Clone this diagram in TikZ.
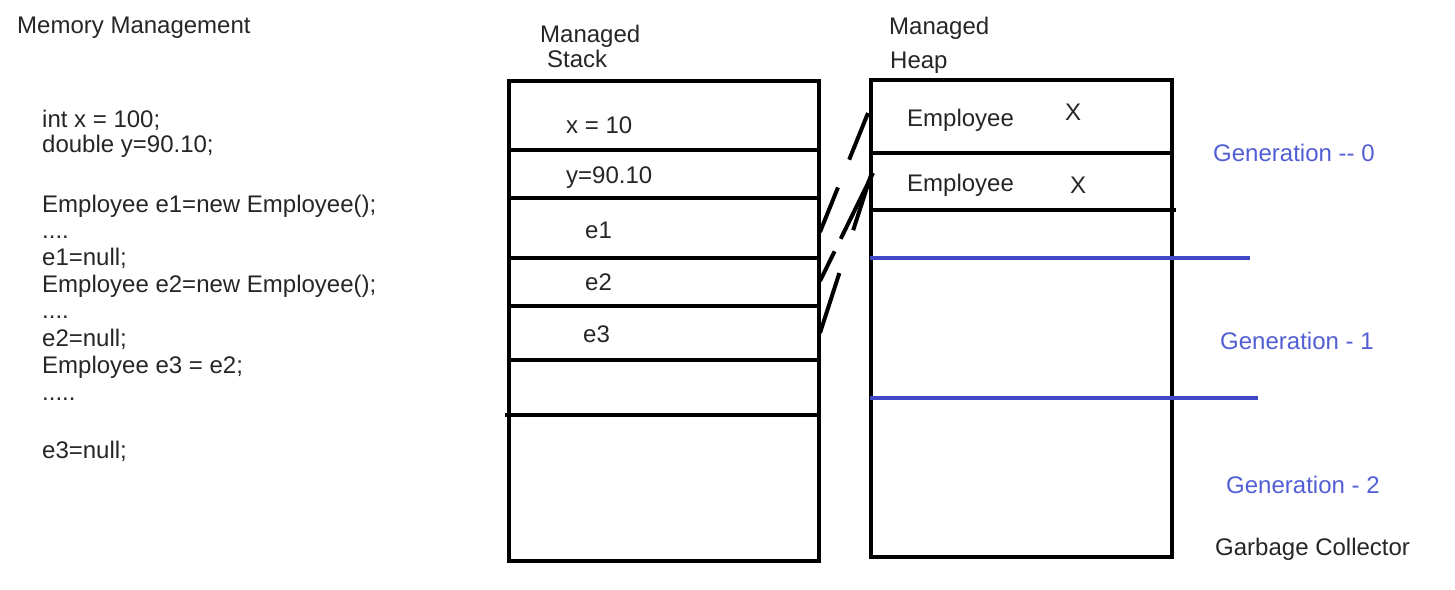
\documentclass[tikz,border=0pt]{standalone}
\usepackage{fontspec}
\setmainfont{Liberation Sans}
\definecolor{txt}{RGB}{38,38,38}
\definecolor{gentxt}{RGB}{82,94,212}
\definecolor{genline}{RGB}{64,72,200}
\begin{document}
\begin{tikzpicture}[x=1pt,y=-1pt,
  lbl/.style={anchor=base west,inner sep=0pt,text=txt,font=\fontsize{24}{28}\selectfont},
  gen/.style={lbl,text=gentxt},
  box/.style={draw=black,line width=4pt},
  sep/.style={draw=black,line width=4pt},
  gline/.style={draw=genline,line width=4pt},
  ref/.style={draw=black,line width=4pt}]
\useasboundingbox (0,0) rectangle (1455,589);
\fill[white] (0,0) rectangle (1455,589);

% left code
\node[lbl] (title) at (17,33) {Memory Management};
\node[lbl] (c1) at (42,127) {int x = 100;};
\node[lbl] (c2) at (42,152) {double y=90.10;};
\node[lbl] (c3) at (42,212) {Employee e1=new Employee();};
\node[lbl] (c4) at (42,238) {....};
\node[lbl] (c5) at (42,265) {e1=null;};
\node[lbl] (c6) at (42,292) {Employee e2=new Employee();};
\node[lbl] (c7) at (42,318) {....};
\node[lbl] (c8) at (42,346) {e2=null;};
\node[lbl] (c9) at (42,373) {Employee e3 = e2;};
\node[lbl] (c10) at (42,400) {.....};
\node[lbl] (c11) at (42,458) {e3=null;};

% stack
\node[lbl] (sm) at (540,42) {Managed};
\node[lbl] (ss) at (547,67) {Stack};
\draw[box] (509,81) rectangle (819,561);
\draw[sep] (509,150) -- (819,150);
\draw[sep] (509,198) -- (819,198);
\draw[sep] (509,258) -- (819,258);
\draw[sep] (509,306) -- (819,306);
\draw[sep] (509,360) -- (819,360);
\draw[sep] (505,415) -- (819,415);
\node[lbl] (sx) at (566,133) {x = 10};
\node[lbl] (sy) at (566,183) {y=90.10};
\node[lbl] (se1) at (585,238) {e1};
\node[lbl] (se2) at (585,290) {e2};
\node[lbl] (se3) at (583,342) {e3};

% heap
\node[lbl] (hm) at (889,34) {Managed};
\node[lbl] (hh) at (890,68) {Heap};
\draw[box] (871,80) rectangle (1172,557);
\draw[sep] (871,153) -- (1172,153);
\draw[sep] (871,210) -- (1176,210);
\node[lbl] (emp1) at (907,126) {Employee};
\node[lbl] (x1) at (1065,120) {X};
\node[lbl] (emp2) at (907,191) {Employee};
\node[lbl] (x2) at (1070,193) {X};

% generations
\coordinate (g1a) at (870,258);
\coordinate (g1b) at (1250,258);
\coordinate (g2a) at (870,398);
\coordinate (g2b) at (1258,398);
\draw[gline] (g1a) -- (g1b);
\draw[gline] (g2a) -- (g2b);
\node[gen] (gen0) at (1213,161) {Generation -{}- 0};
\node[gen] (gen1) at (1220,349) {Generation - 1};
\node[gen] (gen2) at (1226,493) {Generation - 2};
\node[lbl] (gc) at (1215,555) {Garbage Collector};

% references
\coordinate (re1) at (820,232);
\coordinate (rh1) at (868,113);
\coordinate (re2) at (820,281);
\coordinate (rh2a) at (873,173);
\coordinate (re3) at (820,333);
\coordinate (rh2b) at (871,175);
\draw[ref,dash pattern=on 48pt off 30pt on 60pt] (re1) -- (rh1);
\draw[ref,dash pattern=on 33pt off 14pt on 80pt] (re2) -- (rh2a);
\draw[ref,dash pattern=on 63pt off 45pt on 70pt] (re3) -- (rh2b);
\end{tikzpicture}
\end{document}
